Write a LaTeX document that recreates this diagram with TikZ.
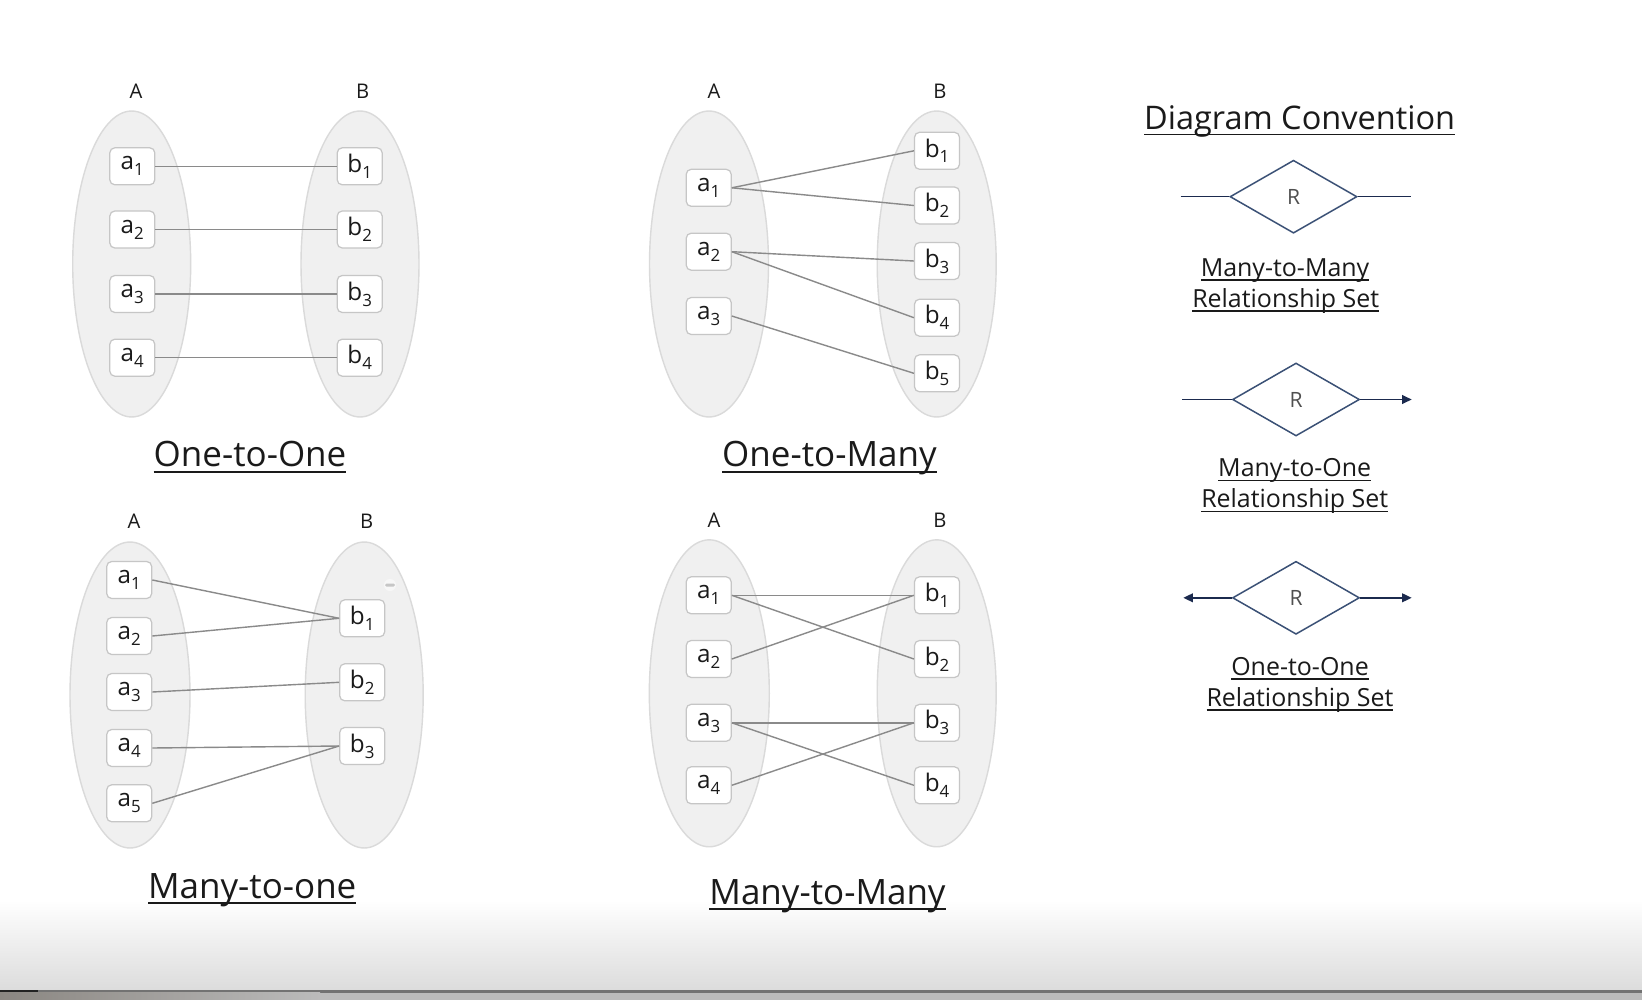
\documentclass[tikz,border=0pt]{standalone}
\usepackage{fontspec}
\setmainfont{Open Sans}
\usetikzlibrary{shapes.geometric,arrows.meta}
\definecolor{ellfill}{HTML}{F0F0F0}
\definecolor{elldraw}{HTML}{DADADA}
\definecolor{boxdraw}{HTML}{C6C6C6}
\definecolor{linkgray}{HTML}{8A8A8A}
\definecolor{diastroke}{HTML}{3B5176}
\definecolor{relnavy}{HTML}{1B2A4E}
\definecolor{rgray}{HTML}{505050}
\definecolor{txt}{HTML}{1A1A1A}
\definecolor{bgg}{HTML}{DCDCDC}
\definecolor{barg}{HTML}{727272}
\definecolor{bard}{HTML}{222222}
\definecolor{stripl}{HTML}{8A8681}
\definecolor{stripr}{HTML}{BBBBBB}
\newbox\myulbox
\newcommand\myul[3]{\setbox\myulbox=\hbox{#3}\rlap{\lower#1\hbox{\vrule width\wd\myulbox height #2 depth 0pt}}\box\myulbox}
\newcommand\elt[2]{#1\raisebox{-3.4pt}{\fontsize{9.6pt}{10pt}\selectfont #2}}
\newcommand\ucap[1]{\myul{3.3pt}{1.1pt}{#1}}
\newcommand\uconv[1]{\myul{2.65pt}{0.75pt}{#1}}
\newcommand\utitle[1]{\myul{3.3pt}{1pt}{#1}}
\tikzset{
  setell/.style={fill=ellfill, draw=elldraw, line width=0.8pt},
  elem/.style={draw=boxdraw, fill=white, rounded corners=0.1cm, minimum width=0.9cm,
    minimum height=0.74cm, inner sep=0pt, line width=0.7pt, text=txt,
    font=\fontsize{13.8pt}{14pt}\selectfont},
  link/.style={draw=linkgray, line width=0.8pt},
  setlbl/.style={font=\fontsize{11.5pt}{12pt}\selectfont, inner sep=0pt, text=txt},
  captionlbl/.style={font=\fontsize{19.9pt}{24pt}\selectfont, inner sep=0pt, anchor=base, text=txt},
  rel/.style={shape=diamond, draw=diastroke, line width=0.85pt, fill=white,
    minimum width=2.54cm, minimum height=1.46cm, inner sep=0pt,
    font=\fontsize{12pt}{13pt}\selectfont, text=rgray},
  relline/.style={draw=relnavy, line width=0.9pt},
  tip/.style={-{Triangle[length=5.5pt,width=5pt]}},
  conv/.style={font=\fontsize{14.2pt}{17pt}\selectfont, inner sep=0pt, anchor=base, text=txt},
  convtitle/.style={font=\fontsize{18.5pt}{22pt}\selectfont, inner sep=0pt, anchor=base, text=txt},
}
\begin{document}
\begin{tikzpicture}[x=0.02cm,y=-0.02cm]
\useasboundingbox (0,0) rectangle (1642,1000);
% background
\fill[white] (0,0) rectangle (1642,1000);
\shade[top color=white, bottom color=bgg] (0,900) rectangle (1642,990);
\fill[bard] (0,990) rectangle (38,992.5);
\fill[barg] (38,990) rectangle (1642,992.5);
\shade[left color=stripl, right color=stripr] (0,992.5) rectangle (320,1000);
\fill[stripr] (320,992.5) rectangle (1642,1000);

% ===== Panel 1: One-to-One =====
\path[setell] (131.7,264) ellipse [x radius=1.18cm, y radius=3.06cm];
\path[setell] (360,264) ellipse [x radius=1.18cm, y radius=3.06cm];
\node[setlbl] (p1A) at (136,91.7) {A};
\node[setlbl] (p1B) at (362.7,91.7) {B};
\node[elem] (p1a1) at (132.3,166.3) {\elt{a}{1}};
\node[elem] (p1a2) at (132.3,229.5) {\elt{a}{2}};
\node[elem] (p1a3) at (132.3,294) {\elt{a}{3}};
\node[elem] (p1a4) at (132.3,357.7) {\elt{a}{4}};
\node[elem] (p1b1) at (359.7,166.3) {\elt{b}{1}};
\node[elem] (p1b2) at (359.7,229.5) {\elt{b}{2}};
\node[elem] (p1b3) at (359.7,294) {\elt{b}{3}};
\node[elem] (p1b4) at (359.7,357.7) {\elt{b}{4}};
\draw[link] (p1a1.east) -- (p1b1.west);
\draw[link] (p1a2.east) -- (p1b2.west);
\draw[link] (p1a3.east) -- (p1b3.west);
\draw[link] (p1a4.east) -- (p1b4.west);
\node[captionlbl] (p1cap) at (250,466.7) {\ucap{One-to-One}};

% ===== Panel 2: One-to-Many =====
\path[setell] (709,264) ellipse [x radius=1.19cm, y radius=3.06cm];
\path[setell] (936.7,264) ellipse [x radius=1.19cm, y radius=3.06cm];
\node[setlbl] (p2A) at (714,91.7) {A};
\node[setlbl] (p2B) at (940,91.7) {B};
\node[elem] (p2a1) at (708.7,187.8) {\elt{a}{1}};
\node[elem] (p2a2) at (708.7,251.7) {\elt{a}{2}};
\node[elem] (p2a3) at (708.7,316) {\elt{a}{3}};
\node[elem] (p2b1) at (937,150.8) {\elt{b}{1}};
\node[elem] (p2b2) at (937,205.5) {\elt{b}{2}};
\node[elem] (p2b3) at (937,261) {\elt{b}{3}};
\node[elem] (p2b4) at (937,317.7) {\elt{b}{4}};
\node[elem] (p2b5) at (937,373.3) {\elt{b}{5}};
\draw[link] (p2a1.east) -- (p2b1.west);
\draw[link] (p2a1.east) -- (p2b2.west);
\draw[link] (p2a2.east) -- (p2b3.west);
\draw[link] (p2a2.east) -- (p2b4.west);
\draw[link] (p2a3.east) -- (p2b5.west);
\node[captionlbl] (p2cap) at (829.4,466.7) {\ucap{One-to-Many}};

% ===== Panel 3: Many-to-one =====
\path[setell] (130,695) ellipse [x radius=1.2cm, y radius=3.06cm];
\path[setell] (364.2,695) ellipse [x radius=1.18cm, y radius=3.06cm];
\node[setlbl] (p3A) at (134,521.7) {A};
\node[setlbl] (p3B) at (366.7,521.7) {B};
\node[elem] (p3a1) at (129.2,580) {\elt{a}{1}};
\node[elem] (p3a2) at (129.2,636) {\elt{a}{2}};
\node[elem] (p3a3) at (129.2,692) {\elt{a}{3}};
\node[elem] (p3a4) at (129.2,748) {\elt{a}{4}};
\node[elem] (p3a5) at (129.2,803.3) {\elt{a}{5}};
\node[elem] (p3b1) at (362.2,618.3) {\elt{b}{1}};
\node[elem] (p3b2) at (362.2,682.3) {\elt{b}{2}};
\node[elem] (p3b3) at (362.2,746) {\elt{b}{3}};
\draw[link] (p3a1.east) -- (p3b1.west);
\draw[link] (p3a2.east) -- (p3b1.west);
\draw[link] (p3a3.east) -- (p3b2.west);
\draw[link] (p3a4.east) -- (p3b3.west);
\draw[link] (p3a5.east) -- (p3b3.west);
\fill[white, opacity=0.5] (390,585) circle [radius=0.12cm];
\fill[boxdraw, rounded corners=0.03cm] (385,583.5) rectangle (395,586.7);
\node[captionlbl] (p3cap) at (252.2,898.3) {\ucap{Many-to-one}};

% ===== Panel 4: Many-to-Many =====
\path[setell] (709.3,693.3) ellipse [x radius=1.2cm, y radius=3.07cm];
\path[setell] (936.7,693.3) ellipse [x radius=1.19cm, y radius=3.07cm];
\node[setlbl] (p4A) at (714,520.7) {A};
\node[setlbl] (p4B) at (940,520.7) {B};
\node[elem] (p4a1) at (708.7,595.3) {\elt{a}{1}};
\node[elem] (p4a2) at (708.7,659) {\elt{a}{2}};
\node[elem] (p4a3) at (708.7,722.8) {\elt{a}{3}};
\node[elem] (p4a4) at (708.7,785.3) {\elt{a}{4}};
\node[elem] (p4b1) at (937,595.3) {\elt{b}{1}};
\node[elem] (p4b2) at (937,659) {\elt{b}{2}};
\node[elem] (p4b3) at (937,722.8) {\elt{b}{3}};
\node[elem] (p4b4) at (937,785.3) {\elt{b}{4}};
\draw[link] (p4a1.east) -- (p4b1.west);
\draw[link] (p4a1.east) -- (p4b2.west);
\draw[link] (p4a2.east) -- (p4b1.west);
\draw[link] (p4a3.east) -- (p4b3.west);
\draw[link] (p4a3.east) -- (p4b4.west);
\draw[link] (p4a4.east) -- (p4b3.west);
\node[captionlbl] (p4cap) at (827.5,904.3) {\ucap{Many-to-Many}};

% ===== Diagram Convention =====
\node[convtitle] (ctitle) at (1299.6,129.5) {\utitle{Diagram Convention}};

\node[rel] (d1) at (1293.5,196.7) {R};
\coordinate (d1l) at (1180.7,196.7);
\coordinate (d1r) at (1410.7,196.7);
\draw[relline] (d1l) -- (d1.west);
\draw[relline] (d1.east) -- (d1r);
\node[conv] (c1a) at (1285,276) {\uconv{Many-to-Many}};
\node[conv] (c1b) at (1285.7,307) {\uconv{Relationship Set}};

\node[rel] (d2) at (1296,399.5) {R};
\coordinate (d2l) at (1182.3,399.5);
\coordinate (d2r) at (1411.7,399.5);
\draw[relline] (d2l) -- (d2.west);
\draw[relline,tip] (d2.east) -- (d2r);
\node[conv] (c2a) at (1294.7,476.7) {\uconv{Many-to-One}};
\node[conv] (c2b) at (1294.7,507.7) {\uconv{Relationship Set}};

\node[rel] (d3) at (1296,597.8) {R};
\coordinate (d3l) at (1183.3,597.8);
\coordinate (d3r) at (1411.7,597.8);
\draw[relline,tip] (d3.west) -- (d3l);
\draw[relline,tip] (d3.east) -- (d3r);
\node[conv] (c3a) at (1300,675) {\uconv{One-to-One}};
\node[conv] (c3b) at (1300,706) {\uconv{Relationship Set}};
\end{tikzpicture}
\end{document}
